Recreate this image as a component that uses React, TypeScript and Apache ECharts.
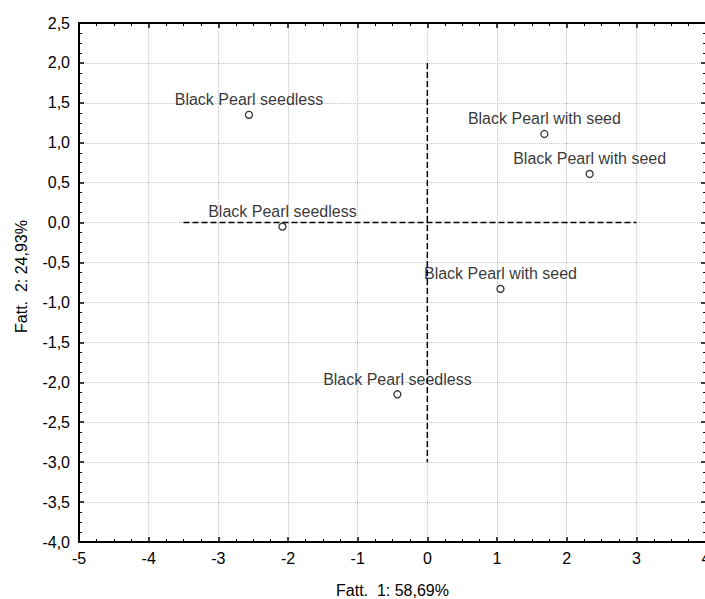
import React, { useEffect, useRef } from "react";
import * as echarts from "echarts";

const pointLabels = [
  "Black Pearl seedless",
  "Black Pearl seedless",
  "Black Pearl with seed",
  "Black Pearl with seed",
  "Black Pearl with seed",
  "Black Pearl seedless",
];
const factor1 = [-2.56, -2.08, 1.68, 2.33, 1.05, -0.43];
const factor2 = [1.35, -0.05, 1.11, 0.61, -0.83, -2.15];
const verticalRef = [[0, 2.0], [0, -3.0]];
const horizontalRef = [[-3.5, 0], [3.0, 0]];
const xTitle = "Fatt.  1: 58,69%";
const yTitle = "Fatt.  2: 24,93%";

const FONT = "'Liberation Sans', Arial, sans-serif";

export default function App() {
  const ref = useRef<HTMLDivElement>(null);
  useEffect(() => {
    if (!ref.current) return;
    const chart = echarts.init(ref.current, null, { renderer: "svg" });
    const axisLine = { show: true, onZero: false, lineStyle: { color: "#000", width: 2 } };
    const tick = { show: true, inside: true, length: 5, lineStyle: { color: "#000", width: 1.5 } };
    const minorTick = { show: true, splitNumber: 4, length: 3, lineStyle: { color: "#000", width: 1 } };
    const splitLine = { show: true, lineStyle: { color: "#c4c4c4", type: "dotted", width: 1 } };
    const xBase = { type: "value", min: -5, max: 4, interval: 1 };
    const yBase = { type: "value", min: -4, max: 2.5, interval: 0.5 };
    chart.setOption({
      animation: false,
      backgroundColor: "#fff",
      textStyle: { fontFamily: FONT },
      grid: {
        left: 79,
        top: 23,
        width: 627,
        height: 519,
        containLabel: false,
        outerBoundsMode: "none",
      },
      xAxis: [
        {
          ...xBase,
          position: "bottom",
          axisLine,
          axisTick: tick,
          minorTick,
          splitLine,
          axisLabel: { color: "#000", fontSize: 16, fontFamily: FONT, margin: 8, formatter: (v: number) => String(v) },
          name: xTitle,
          nameLocation: "middle",
          nameGap: 40,
          nameTextStyle: { color: "#000", fontSize: 16, fontFamily: FONT },
        },
        {
          ...xBase,
          position: "top",
          axisLine,
          axisTick: tick,
          minorTick,
          splitLine: { show: false },
          axisLabel: { show: false },
        },
      ],
      yAxis: [
        {
          ...yBase,
          position: "left",
          axisLine,
          axisTick: tick,
          minorTick,
          splitLine,
          axisLabel: {
            color: "#000",
            fontSize: 16,
            fontFamily: FONT,
            margin: 9,
            formatter: (v: number) => v.toFixed(1).replace(".", ","),
          },
          name: yTitle,
          nameLocation: "middle",
          nameGap: 50,
          nameTextStyle: { color: "#000", fontSize: 16, fontFamily: FONT, padding: [0, 0, 0, 12] },
        },
        {
          ...yBase,
          position: "right",
          axisLine,
          axisTick: tick,
          minorTick,
          splitLine: { show: false },
          axisLabel: { show: false },
        },
      ],
      series: [
        {
          type: "line",
          data: verticalRef,
          symbol: "none",
          silent: true,
          lineStyle: { color: "#000", width: 1.5, type: [6, 3] },
        },
        {
          type: "line",
          data: horizontalRef,
          symbol: "none",
          silent: true,
          lineStyle: { color: "#000", width: 1.5, type: [6, 3] },
        },
        {
          type: "scatter",
          symbol: "circle",
          symbolSize: 7,
          data: factor1.map((x, i) => ({ value: [x, factor2[i]], name: pointLabels[i] })),
          itemStyle: { color: "#fff", borderColor: "#000", borderWidth: 1.3 },
          label: {
            show: true,
            position: "top",
            distance: 3,
            formatter: (p: any) => p.name,
            color: "#000",
            fontSize: 16,
            fontFamily: FONT,
          },
          z: 5,
        },
      ],
    });
    return () => chart.dispose();
  }, []);
  return (
    <div
      ref={ref}
      style={{ position: "absolute", left: 0, top: 0, width: 705, height: 599, background: "#fff" }}
    />
  );
}
